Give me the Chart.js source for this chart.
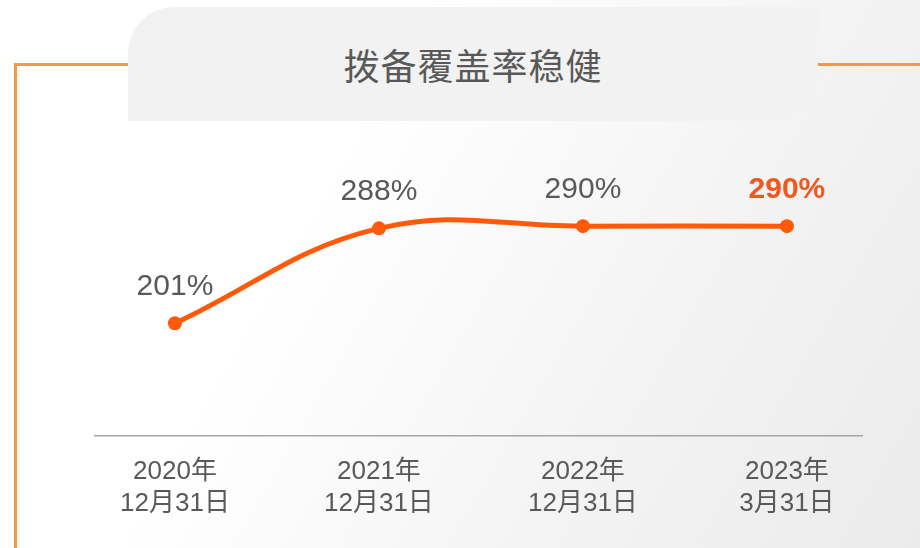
<!DOCTYPE html>
<html>
<head>
<meta charset="utf-8">
<script src="https://cdn.jsdelivr.net/npm/chart.js@4"></script>
<style>
  html, body { margin: 0; padding: 0; }
  body {
    width: 920px; height: 548px; overflow: hidden; position: relative;
    background: linear-gradient(120deg, #ffffff 35%, #f3f3f3 70%, #ebebeb 100%);
    font-family: "Liberation Sans", "Noto Sans CJK SC", sans-serif;
  }
  .cadre-g { position: absolute; left: 14px; top: 63px; width: 114px; height: 500px;
    border-left: 3px solid #F79646; border-top: 3px solid #F79646; box-sizing: border-box; }
  .cadre-d { position: absolute; left: 818px; top: 63px; width: 102px; height: 3px; background: #F79646; }
  .onglet { position: absolute; left: 128px; top: 7px; width: 690px; height: 114px;
    background: #f2f2f2; border-radius: 46px 0 50px 0; }
  .titre { position: absolute; left: 128px; top: 7px; width: 690px; height: 114px;
    line-height: 114px; text-align: center; font-family: "Noto Sans CJK SC", serif;
    font-size: 36px; color: #595959; letter-spacing: 1px; }
  #zone { position: absolute; left: 0; top: 0; width: 920px; height: 548px; }
</style>
</head>
<body>
<div class="cadre-g"></div>
<div class="cadre-d"></div>
<div class="onglet"></div>
<div class="titre">拨备覆盖率稳健</div>
<div id="zone"><canvas id="chart"></canvas></div>
<script>
// Données du graphique
const categories = [['2020年', '12月31日'], ['2021年', '12月31日'], ['2022年', '12月31日'], ['2023年', '3月31日']];
const valeurs = [201, 288, 290, 290];
const etiquettes = ['201%', '288%', '290%', '290%'];

const orange = '#FF5A0A';

// Étiquettes au-dessus des points
const pluginEtiquettes = {
    id: 'etiquettes',
    afterDatasetsDraw(chart) {
        const ctx = chart.ctx;
        const meta = chart.getDatasetMeta(0);
        ctx.save();
        ctx.textAlign = 'center';
        ctx.textBaseline = 'alphabetic';
        meta.data.forEach((pt, i) => {
            const dernier = i === meta.data.length - 1;
            ctx.font = (dernier ? 'bold ' : '') + '30px "Liberation Sans", Arial, sans-serif';
            ctx.fillStyle = dernier ? '#F0581E' : '#595959';
            ctx.fillText(etiquettes[i], pt.x, pt.y - 28);
        });
        ctx.restore();
    }
};

function afficherGraphique() {
    const ctx = document.getElementById('chart').getContext('2d');
    new Chart(ctx, {
        type: 'line',
        data: {
            datasets: [{
                data: valeurs.map((v, i) => ({ x: i, y: v })),
                borderColor: orange,
                backgroundColor: orange,
                borderWidth: 5,
                pointRadius: 7,
                pointBackgroundColor: orange,
                pointBorderWidth: 0,
                tension: 0.4,
                clip: false
            }]
        },
        options: {
            responsive: true,
            maintainAspectRatio: false,
            animation: false,
            layout: { padding: { left: 95, right: 58, top: 140, bottom: 8 } },
            plugins: { legend: { display: false }, tooltip: { enabled: false } },
            scales: {
                x: {
                    type: 'linear',
                    min: -0.392,
                    max: 3.368,
                    afterBuildTicks: scale => {
                        scale.ticks = categories.map((_, i) => ({ value: i }));
                    },
                    grid: { display: false, drawTicks: false },
                    border: { display: true, color: '#A6A6A6', width: 1.5 },
                    ticks: {
                        callback: v => categories[v],
                        autoSkip: false,
                        maxRotation: 0,
                        padding: 21,
                        color: '#595959',
                        font: { size: 26, family: '"Liberation Sans", "Noto Sans CJK SC", sans-serif', lineHeight: 1.2 }
                    }
                },
                y: {
                    display: false,
                    min: 98,
                    max: 369
                }
            }
        },
        plugins: [pluginEtiquettes]
    });
}

afficherGraphique();
</script>
</body>
</html>
